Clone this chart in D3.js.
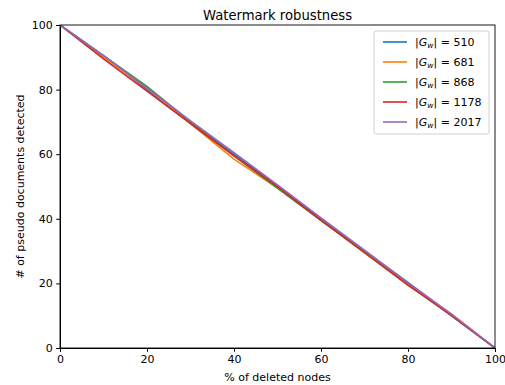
<!DOCTYPE html>
<html>
<head>
<meta charset="utf-8">
<script src="https://cdn.jsdelivr.net/npm/d3@7"></script>
<style>
  body { margin: 0; background: #fff; }
  text { font-family: "DejaVu Sans", sans-serif; fill: #000; }
</style>
</head>
<body>
<div id="viz"></div>
<script>
// chart data
var xValues = [0, 10, 20, 30, 40, 50, 60, 70, 80, 90, 100];
var sizes = [510, 681, 868, 1178, 2017];
var colors = ['#1f77b4', '#ff7f0e', '#2ca02c', '#d62728', '#9467bd'];
var s510  = [100, 90.5, 80.0, 70.0, 60.0, 50.0, 40.0, 30.0, 20.0, 10.0, 0];
var s681  = [100, 90.0, 80.5, 69.5, 58.5, 49.5, 39.5, 29.5, 19.5, 10.5, 0];
var s868  = [100, 90.5, 81.0, 70.0, 59.5, 49.5, 39.5, 30.0, 20.3, 10.0, 0];
var s1178 = [100, 89.5, 79.5, 69.5, 59.5, 50.0, 39.5, 29.5, 19.5, 10.0, 0];
var s2017 = [100, 90.5, 80.5, 70.3, 60.5, 50.5, 40.3, 30.3, 20.2, 10.5, 0];
var series = [s510, s681, s868, s1178, s2017];
var xTicks = [0, 20, 40, 60, 80, 100];
var yTicks = [0, 20, 40, 60, 80, 100];

var width = 505, height = 385;
var plotLeft = 60, plotRight = 495, plotTop = 25, plotBottom = 348;

var svg = d3.select('#viz').append('svg')
  .attr('width', width)
  .attr('height', height);

var x = d3.scaleLinear().domain([0, 100]).range([plotLeft, plotRight]);
var y = d3.scaleLinear().domain([0, 100]).range([plotBottom, plotTop]);

// axes
svg.append('g')
  .attr('transform', 'translate(0,' + plotBottom + ')')
  .call(d3.axisBottom(x).tickValues(xTicks).tickSize(3.8).tickPadding(3.5))
  .call(function(g) { g.selectAll('text').style('font-size', '11px').style('font-family', 'DejaVu Sans'); });

svg.append('g')
  .attr('transform', 'translate(' + plotLeft + ',0)')
  .call(d3.axisLeft(y).tickValues(yTicks).tickSize(3.8).tickPadding(3.5))
  .call(function(g) { g.selectAll('text').style('font-size', '11px').style('font-family', 'DejaVu Sans'); });

// lines
var line = d3.line()
  .x(function(d, i) { return x(xValues[i]); })
  .y(function(d) { return y(d); });

svg.append('clipPath').attr('id', 'clip')
  .append('rect').attr('x', plotLeft).attr('y', plotTop)
  .attr('width', plotRight - plotLeft).attr('height', plotBottom - plotTop);

series.forEach(function(s, k) {
  svg.append('path')
    .datum(s)
    .attr('d', line)
    .attr('fill', 'none')
    .attr('stroke', colors[k])
    .attr('stroke-width', 1.6)
    .attr('clip-path', 'url(#clip)');
});

// frame
svg.append('rect')
  .attr('x', plotLeft).attr('y', plotTop)
  .attr('width', plotRight - plotLeft).attr('height', plotBottom - plotTop)
  .attr('fill', 'none').attr('stroke', '#000').attr('stroke-width', 0.9);

// title and labels
svg.append('text')
  .attr('x', (plotLeft + plotRight) / 2).attr('y', 19.5)
  .attr('text-anchor', 'middle')
  .style('font-size', '13.2px')
  .text('Watermark robustness');

svg.append('text')
  .attr('x', (plotLeft + plotRight) / 2).attr('y', 381)
  .attr('text-anchor', 'middle')
  .style('font-size', '11px')
  .text('% of deleted nodes');

svg.append('text')
  .attr('transform', 'translate(24,' + (plotTop + plotBottom) / 2 + ') rotate(-90)')
  .attr('text-anchor', 'middle')
  .style('font-size', '11px')
  .text('# of pseudo documents detected');

// legend
var legend = svg.append('g');
legend.append('rect')
  .attr('x', 374).attr('y', 31)
  .attr('width', 115).attr('height', 103)
  .attr('rx', 2)
  .attr('fill', '#fff').attr('fill-opacity', 0.8)
  .attr('stroke', '#ccc').attr('stroke-width', 0.9);

sizes.forEach(function(n, k) {
  var yy = 42 + k * 20;
  legend.append('line')
    .attr('x1', 383).attr('x2', 407)
    .attr('y1', yy).attr('y2', yy)
    .attr('stroke', colors[k]).attr('stroke-width', 1.6);
  var t = legend.append('text')
    .attr('x', 415).attr('y', yy + 4)
    .style('font-size', '11px');
  t.append('tspan').text('|');
  t.append('tspan').style('font-style', 'italic').text('G');
  t.append('tspan').attr('dy', 2).style('font-size', '7.7px').style('font-style', 'italic').text('w');
  t.append('tspan').attr('dy', -2).text('| = ' + n);
});
</script>
</body>
</html>
